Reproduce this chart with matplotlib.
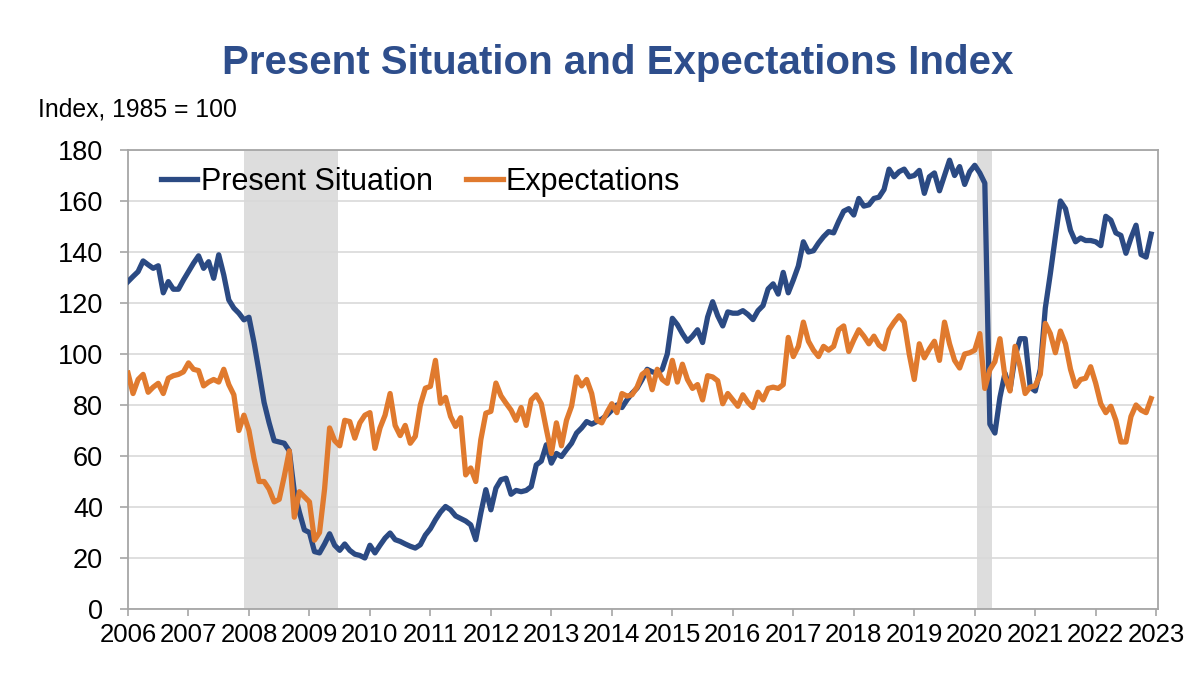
import matplotlib
matplotlib.use("Agg")
import matplotlib.pyplot as plt
import numpy as np

# ---- data (monthly, Jan 2006 - Dec 2022) ----
start_year = 2006
present_situation = [
    128.4, 130.4, 132.3, 136.5, 135.0, 133.6, 134.6, 124.0, 128.4, 125.4, 125.4, 129.0,
    132.3, 135.6, 138.5, 133.6, 136.2, 129.7, 138.9, 131.0, 121.2, 118.0, 116.0, 113.4,
    114.4, 104.5, 93.0, 81.0, 73.0, 66.0, 65.5, 65.0, 62.0, 46.0, 38.0, 31.0,
    30.0, 22.5, 22.0, 25.5, 29.5, 25.0, 23.0, 25.5, 23.0, 21.5, 21.0, 20.0,
    25.0, 22.0, 25.0, 27.8, 29.8, 27.2, 26.5, 25.5, 24.6, 23.9, 25.2, 29.0,
    31.5, 35.0, 38.0, 40.2, 38.9, 36.5, 35.5, 34.5, 33.0, 27.2, 37.6, 46.8,
    38.9, 47.4, 50.7, 51.3, 45.0, 46.5, 46.0, 46.5, 48.0, 56.5, 58.0, 64.4,
    57.2, 61.0, 59.8, 62.5, 65.0, 69.0, 71.0, 73.5, 72.5, 73.5, 74.5, 76.0,
    78.0, 80.0, 79.0, 82.0, 84.6, 86.6, 90.0, 94.0, 93.0, 92.5, 94.0, 100.0,
    114.0, 111.5, 108.0, 105.0, 107.0, 109.5, 104.5, 114.5, 120.5, 115.0, 111.0, 116.5,
    116.0, 116.0, 117.0, 115.5, 113.5, 117.0, 119.0, 125.5, 127.5, 123.5, 132.0, 124.0,
    129.0, 134.5, 144.0, 140.0, 140.5, 143.5, 146.0, 148.0, 147.5, 152.0, 156.0, 157.0,
    154.5, 161.0, 158.0, 158.5, 161.0, 161.5, 164.5, 172.5, 169.5, 171.5, 172.5, 169.5,
    170.0, 172.0, 163.0, 169.5, 171.0, 164.0, 170.0, 176.0, 170.0, 173.5, 166.5, 171.5,
    174.0, 171.0, 167.0, 72.5, 69.0, 83.0, 92.5, 86.0, 99.0, 106.0, 106.0, 87.0,
    85.5, 94.0, 118.0, 131.5, 146.0, 160.0, 157.0, 148.5, 144.0, 145.5, 144.5, 144.5,
    144.0, 142.5, 154.0, 152.5, 147.5, 146.5, 139.5, 145.5, 150.5, 139.0, 138.0, 147.0,
]
expectations = [
    92.5, 84.5, 90.0, 92.0, 85.0, 87.0, 88.5, 84.5, 90.5, 91.5, 92.0, 93.0,
    96.5, 94.0, 93.5, 87.5, 89.0, 90.0, 89.0, 94.0, 88.0, 84.0, 70.0, 76.0,
    70.0, 59.0, 50.0, 50.0, 47.0, 42.0, 43.0, 52.0, 62.0, 36.0, 46.0, 44.0,
    42.0, 27.0, 30.0, 47.0, 71.0, 66.0, 64.0, 74.0, 73.5, 67.0, 73.0, 76.0,
    77.0, 63.0, 71.0, 76.0, 84.5, 72.0, 68.0, 72.0, 65.0, 67.7, 80.0, 86.6,
    87.3, 97.5, 80.7, 83.0, 75.5, 71.6, 75.0, 52.6, 55.3, 50.0, 66.4, 76.8,
    77.5, 88.6, 83.6, 80.7, 78.0, 74.0, 79.0, 72.0, 82.0, 84.0, 80.5, 70.5,
    61.0, 73.0, 64.0, 74.0, 79.5, 91.0, 87.5, 90.0, 84.5, 74.0, 73.0, 77.0,
    80.5, 77.0, 84.5, 83.5, 84.0, 87.0, 92.0, 93.5, 86.0, 94.0, 90.0, 88.5,
    97.5, 89.0, 96.0, 90.0, 86.5, 88.0, 82.0, 91.5, 91.0, 89.5, 80.5, 84.5,
    82.0, 79.5, 84.0, 81.0, 79.0, 85.0, 82.0, 86.5, 87.0, 86.5, 88.0, 106.5,
    99.0, 103.0, 112.5, 105.0, 101.5, 99.0, 103.0, 101.5, 103.0, 109.5, 111.0, 101.0,
    105.5, 109.5, 107.0, 104.0, 107.0, 103.5, 102.0, 109.5, 112.5, 115.0, 112.5, 100.0,
    90.0, 104.0, 98.5, 102.0, 105.0, 97.5, 112.5, 104.0, 97.5, 94.5, 100.0, 100.5,
    101.5, 108.0, 86.5, 93.8, 97.0, 106.0, 91.0, 85.5, 103.0, 95.0, 84.5, 87.0,
    87.5, 92.0, 112.0, 108.0, 100.5, 109.0, 104.0, 94.0, 87.3, 90.0, 90.5, 95.0,
    88.5, 80.5, 77.0, 79.5, 74.0, 65.5, 65.5, 75.5, 80.0, 78.0, 77.0, 82.5,
]
recession_starts = [2007.917, 2020.04]
recession_ends = [2009.47, 2020.29]
year_ticks = list(range(2006, 2024))
y_ticks = list(range(0, 181, 20))
series_names = ["Present Situation", "Expectations"]

# ---- plot ----
plt.rcParams['font.family'] = ['Liberation Sans', 'DejaVu Sans']
fig = plt.figure(figsize=(12, 6.74), dpi=100)
ax = fig.add_axes([128 / 1200, 1 - 609 / 674, (1158 - 128) / 1200, 459 / 674])

t = start_year + np.arange(len(present_situation)) / 12.0

for s, e in zip(recession_starts, recession_ends):
    ax.axvspan(s, e, color='#DDDDDD', lw=0, zorder=0)

ax.set_axisbelow(True)
ax.grid(axis='y', color='#D9D9D9', lw=1.2, zorder=0.5)

blue = '#2B4A83'
orange = '#E07A2E'
ax.plot(t, present_situation, color=blue, lw=3.8, label=series_names[0], zorder=3,
        solid_joinstyle='round')
ax.plot(t, expectations, color=orange, lw=3.8, label=series_names[1], zorder=3,
        solid_joinstyle='round')

ax.set_xlim(2006, 2023.03)
ax.set_ylim(0, 180)
ax.set_xticks(year_ticks)
ax.set_xticklabels([str(y) for y in year_ticks])
ax.set_yticks(y_ticks)

for sp in ax.spines.values():
    sp.set_color('#A6A6A6')
    sp.set_linewidth(1.3)

ax.tick_params(axis='x', direction='out', length=5, width=1.2, color='#A6A6A6',
               labelsize=18.5, pad=5, labelcolor='black')
ax.tick_params(axis='y', direction='out', length=6, width=1.2, color='#A6A6A6',
               labelsize=19.5, pad=12, labelcolor='black')

leg = ax.legend(loc='upper left', bbox_to_anchor=(0.02, 0.99), ncol=2, frameon=False,
                fontsize=22, handlelength=1.2, handletextpad=0.1, columnspacing=1.1,
                borderaxespad=0.0)

fig.text(0.515, 0.906, "Present Situation and Expectations Index", ha='center', va='center',
         fontsize=29, fontweight='bold', color='#2E4E8C')
fig.text(38 / 1200, 1 - 110 / 674, "Index, 1985 = 100", ha='left', va='center',
         fontsize=17.8, color='black')

fig.savefig("out.png", dpi=100)
